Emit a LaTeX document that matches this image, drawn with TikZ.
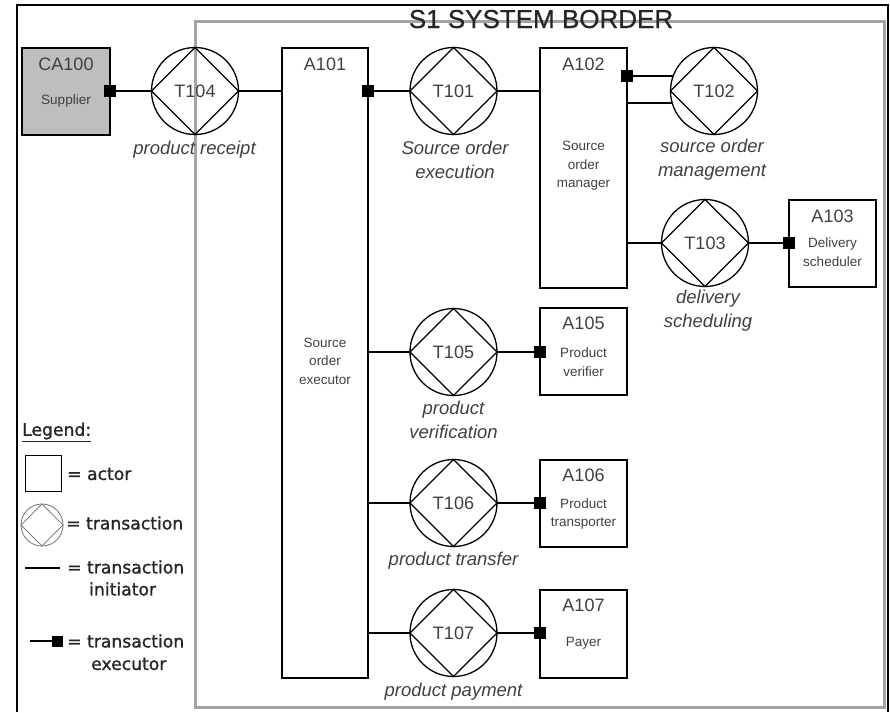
\documentclass[tikz,border=0pt]{standalone}
\usepackage{fontspec}
\setmainfont{Liberation Sans}
\newfontfamily\legendfont[FakeBold=1.2]{DejaVu Sans}
\newfontfamily\titlefont[FakeBold=0.6]{Liberation Sans}
\definecolor{textgray}{HTML}{404040}
\definecolor{suppgray}{HTML}{BEBEBE}
\definecolor{bordergray}{HTML}{A4A4A4}
\begin{document}
\begin{tikzpicture}[x=1pt,y=-1pt,
  actor/.style={draw, line width=1.3pt, inner sep=0pt, outer sep=0pt},
  exec/.style={fill=black, minimum size=12pt, inner sep=0pt, outer sep=0pt},
  trans/.style={circle, draw, line width=1.3pt, minimum size=87pt, inner sep=0pt, outer sep=0pt,
    text=textgray, font=\fontsize{18}{20}\selectfont},
  conn/.style={line width=1.3pt},
  idtext/.style={text=textgray, inner sep=0pt, font=\fontsize{18}{20}\selectfont},
  stext/.style={text=textgray, inner sep=0pt, align=center, font=\fontsize{13.5}{18.5}\selectfont},
  ttext/.style={text=textgray, inner sep=0pt, align=center, font=\fontsize{18.5}{24}\selectfont\itshape},
  legtext/.style={text=black!85, inner sep=0pt, anchor=west, font=\legendfont\fontsize{17.2}{19}\selectfont}
]
\useasboundingbox (0,0) rectangle (890,712);

% outer frame and system border
\draw[line width=2pt] (17,712) -- (17,5) -- (888,5) -- (888,712);
\draw[bordergray, line width=3pt] (195,21) rectangle (884,707);
\node[text=black!85, inner sep=0pt, anchor=base, font=\titlefont\fontsize{26}{28}\selectfont] (title) at (541,28) {S1 SYSTEM BORDER};

% actors
\node[actor, fill=suppgray, minimum width=88pt, minimum height=87pt] (CA100) at (66,91.5) {};
\node[idtext] (CA100id) at (66,64) {CA100};
\node[stext] (CA100nm) at (66,101) {Supplier};

\node[actor, minimum width=86pt, minimum height=630pt] (A101) at (325,363) {};
\node[idtext] (A101id) at (325,64) {A101};
\node[stext] (A101nm) at (325,361) {Source\\order\\executor};

\node[actor, minimum width=87pt, minimum height=240pt] (A102) at (583.5,168) {};
\node[idtext] (A102id) at (583.5,64) {A102};
\node[stext] (A102nm) at (583.5,166) {Source\\order\\manager};

\node[actor, minimum width=87pt, minimum height=87pt] (A103) at (832.5,243.5) {};
\node[idtext] (A103id) at (832.5,216) {A103};
\node[stext] (A103nm) at (832.5,252) {Delivery\\scheduler};

\node[actor, minimum width=87pt, minimum height=87pt] (A105) at (583.5,351.5) {};
\node[idtext] (A105id) at (583.5,323) {A105};
\node[stext] (A105nm) at (583.5,362) {Product\\verifier};

\node[actor, minimum width=87pt, minimum height=87pt] (A106) at (583.5,503.5) {};
\node[idtext] (A106id) at (583.5,475) {A106};
\node[stext] (A106nm) at (583.5,514) {Product\\transporter};

\node[actor, minimum width=87pt, minimum height=88pt] (A107) at (583.5,634) {};
\node[idtext] (A107id) at (583.5,605) {A107};
\node[stext] (A107nm) at (583.5,643) {Payer};

% transactions
\foreach \n/\px/\py in {T104/195/91, T101/453.5/91, T102/714/91, T103/705/243,
                        T105/453.5/352, T106/453.5/503, T107/453.5/633}{
  \node[trans] (\n) at (\px,\py) {\n};
  \draw[conn] (\n.north) -- (\n.east) -- (\n.south) -- (\n.west) -- cycle;
}

\node[ttext] (T104lb) at (194.5,150) {product receipt};
\node[ttext] (T101lb) at (455,160) {Source order\\execution};
\node[ttext] (T102lb) at (712,160) {source order\\management};
\node[ttext] (T103lb) at (708,311) {delivery\\scheduling};
\node[ttext] (T105lb) at (453.5,420) {product\\verification};
\node[ttext] (T106lb) at (453.5,561) {product transfer};
\node[ttext] (T107lb) at (453.5,692) {product payment};

% initiator and executor links
\draw[conn] (CA100.east |- T104) -- (T104.west);
\draw[conn] (T104.east) -- (A101.west |- T104);
\draw[conn] (A101.east |- T101) -- (T101.west);
\draw[conn] (T101.east) -- (A102.west |- T101);
\draw[conn] (A102.east |- T102.160) -- (T102.160);
\draw[conn] (A102.east |- T102.196) -- (T102.196);
\draw[conn] (A102.east |- T103) -- (T103.west);
\draw[conn] (T103.east) -- (A103.west |- T103);
\draw[conn] (A101.east |- T105) -- (T105.west);
\draw[conn] (T105.east) -- (A105.west |- T105);
\draw[conn] (A101.east |- T106) -- (T106.west);
\draw[conn] (T106.east) -- (A106.west |- T106);
\draw[conn] (A101.east |- T107) -- (T107.west);
\draw[conn] (T107.east) -- (A107.west |- T107);

\node[exec] (x104) at (CA100.east |- T104) {};
\node[exec] (x101) at (A101.east |- T101) {};
\node[exec] (x102) at (A102.east |- T102.160) {};
\node[exec] (x103) at (A103.west |- T103) {};
\node[exec] (x105) at (A105.west |- T105) {};
\node[exec] (x106) at (A106.west |- T106) {};
\node[exec] (x107) at (A107.west |- T107) {};

% legend
\node[legtext] (leg) at (22,432) {\underline{Legend:}};
\node[draw, line width=1.8pt, minimum size=36pt, inner sep=0pt] (legactor) at (43.5,473.5) {};
\node[legtext] (legactorlb) at (67,474) {= actor};
\node[circle, draw=gray, line width=0.9pt, minimum size=42pt, inner sep=0pt, outer sep=0pt] (legtrans) at (42,525) {};
\draw[gray, line width=0.9pt] (legtrans.north) -- (legtrans.east) -- (legtrans.south) -- (legtrans.west) -- cycle;
\node[legtext] (legtranslb) at (66,523) {= transaction};
\coordinate (legi1) at (25,568);
\coordinate (legi2) at (60,568);
\draw[line width=2.6pt] (legi1) -- (legi2);
\node[legtext] (leginitlb) at (67,567) {= transaction};
\node[legtext] (leginitlb2) at (89,589) {initiator};
\coordinate (lege1) at (30,641);
\node[exec, minimum size=11pt] (legex) at (57,641) {};
\draw[line width=2.8pt] (lege1) -- (legex);
\node[legtext] (legexlb) at (67,641) {= transaction};
\node[legtext] (legexlb2) at (91,664) {executor};
\end{tikzpicture}
\end{document}
